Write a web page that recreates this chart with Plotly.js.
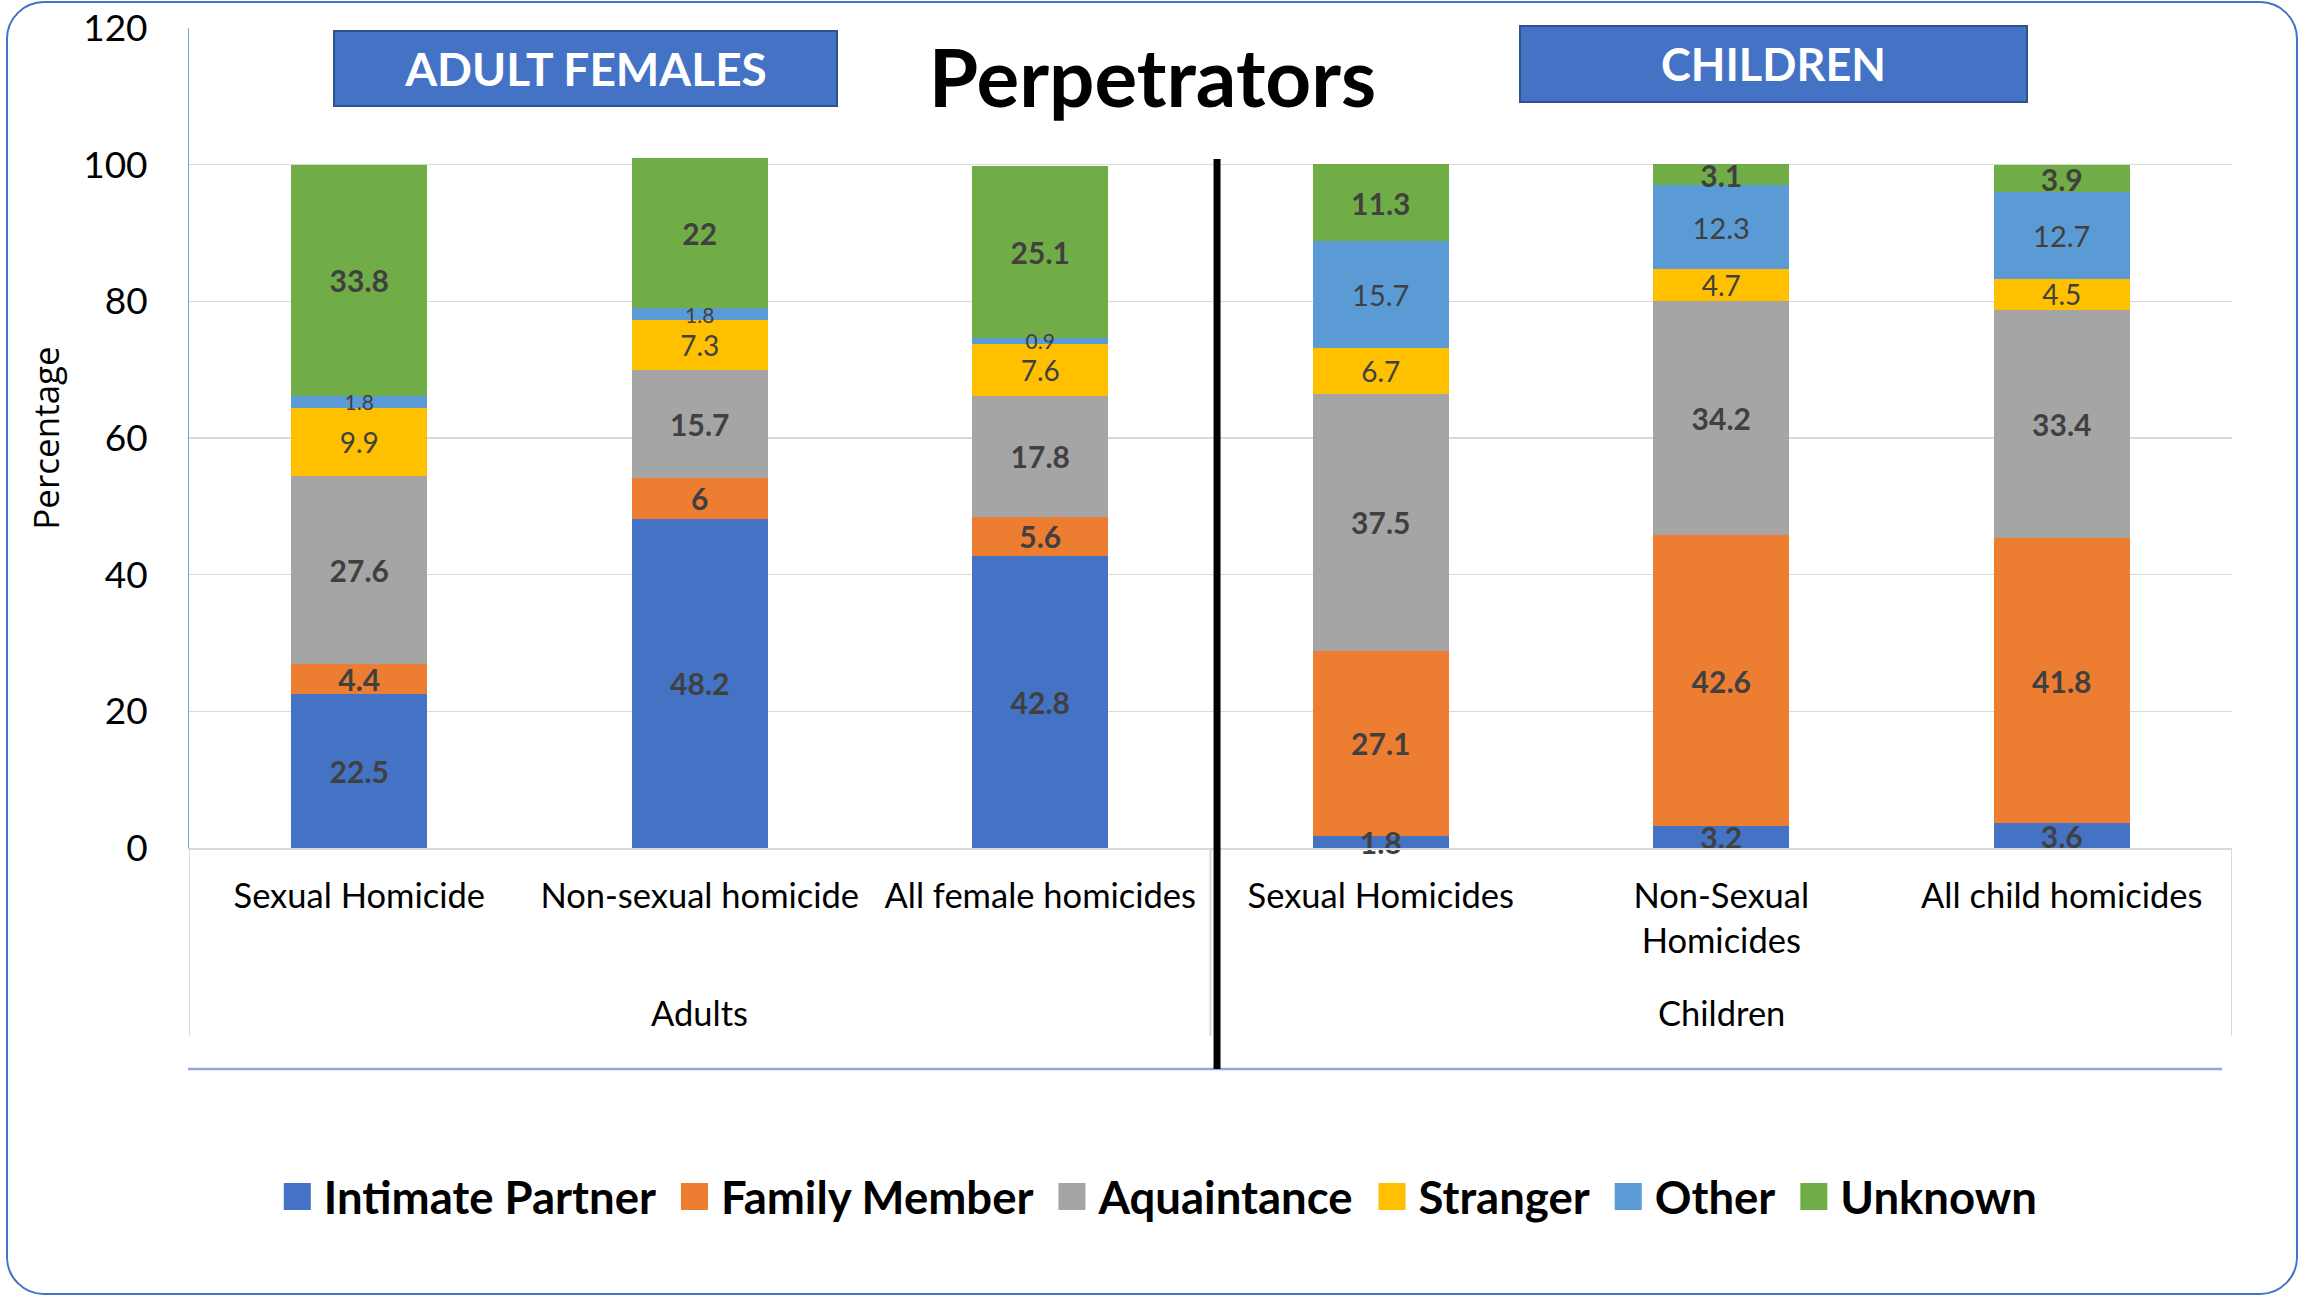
<!DOCTYPE html>
<html><head><meta charset="utf-8">
<script src="https://cdn.plot.ly/plotly-3.0.1.min.js"></script>
<style>
html,body{margin:0;padding:0;background:#fff;overflow:hidden}
#wrap{position:relative;width:2305px;height:1297px}
#chart{width:2305px;height:1297px}
#frame{position:absolute;left:6px;top:1px;width:2292px;height:1294px;border:2px solid #4472C4;border-radius:38px;pointer-events:none;box-sizing:border-box}
</style></head><body>
<div id="wrap"><div id="chart"></div><div id="frame"></div></div>
<script>
// ---- data ----
const groupNames = ['Adults', 'Children'];
const categories = ['Sexual Homicide','Non-sexual homicide','All female homicides','Sexual Homicides','Non-Sexual<br>Homicides','All child homicides'];
const seriesNames = ['Intimate Partner','Family Member','Aquaintance','Stranger','Other','Unknown'];
const intimatePartner = [22.5, 48.2, 42.8, 1.8, 3.2, 3.6];
const familyMember    = [4.4, 6, 5.6, 27.1, 42.6, 41.8];
const aquaintance     = [27.6, 15.7, 17.8, 37.5, 34.2, 33.4];
const stranger        = [9.9, 7.3, 7.6, 6.7, 4.7, 4.5];
const other           = [1.8, 1.8, 0.9, 15.7, 12.3, 12.7];
const unknown         = [33.8, 22, 25.1, 11.3, 3.1, 3.9];
const yTickVals = [0, 20, 40, 60, 80, 100, 120];
const chartTitle = 'Perpetrators';
const boxLabels = ['ADULT FEMALES', 'CHILDREN'];
const yTitle = 'Percentage';

// ---- styling ----
const FONT = 'Lato, "Open Sans", sans-serif';
const colors = ['#4472C4','#ED7D31','#A5A5A5','#FFC000','#5B9BD5','#70AD47'];
const weights = [700,700,700,400,400,700];
const sizes = [30,30,30,28,[21,21,21,29,29,29],30];
const seriesValues = [intimatePartner, familyMember, aquaintance, stranger, other, unknown];

const traces = seriesValues.map((vals, i) => ({
  type: 'bar',
  name: seriesNames[i],
  x: categories,
  y: vals,
  marker: {color: colors[i]},
  text: vals.map(v => String(v)),
  textposition: 'inside',
  insidetextanchor: 'middle',
  textangle: 0,
  constraintext: 'none',
  textfont: {family: FONT, size: sizes[i], color: '#404040', weight: weights[i]},
  hoverinfo: 'skip',
  cliponaxis: false
}));

const GRAY = '#D9D9D9';
const belowAxis = -0.2293;   // bottom of the category label box (paper units)
const layout = {
  width: 2305, height: 1297,
  margin: {l: 189, r: 73, t: 28, b: 449},
  paper_bgcolor: '#fff', plot_bgcolor: '#fff',
  barmode: 'stack', bargap: 0.6,
  font: {family: FONT, color: '#000'},
  title: {text: chartTitle, font: {family: FONT, size: 80, weight: 700, color: '#000'},
          x: 0.5, xanchor: 'center', xref: 'container', y: 1 - 79/1297, yanchor: 'middle', yref: 'container'},
  xaxis: {type: 'category', showline: true, linecolor: GRAY, linewidth: 2,
          tickfont: {family: FONT, size: 34.5, color: '#000'}, ticks: '', showgrid: false,
          ticklabelstandoff: 17, automargin: false, range: [-0.5, 5.5]},
  yaxis: {range: [0, 120], tickvals: yTickVals, gridcolor: GRAY, gridwidth: 1.5,
          showline: true, linecolor: '#7F9FDA', linewidth: 1, zeroline: false, ticks: '',
          tickfont: {family: FONT, size: 37, color: '#000'}, ticklabelstandoff: 33, automargin: false,
          title: {text: yTitle, font: {family: '"Open Sans", sans-serif', size: 35, color: '#000'}, standoff: 12}},
  showlegend: true,
  legend: {orientation: 'h', x: 0.472, xanchor: 'center', y: -0.4256, yanchor: 'middle',
           font: {family: FONT, size: 45.5, weight: 700, color: '#000'}, traceorder: 'normal',
           itemwidth: 50, itemclick: false, itemdoubleclick: false},
  annotations: [
    {xref: 'paper', yref: 'paper', x: 0.194, y: 0.9506, xanchor: 'center', yanchor: 'middle',
     text: boxLabels[0], showarrow: false, font: {family: FONT, size: 46, weight: 700, color: '#fff'},
     bgcolor: '#4472C4', bordercolor: '#2F528F', borderwidth: 2, borderpad: 0, width: 501, height: 73},
    {xref: 'paper', yref: 'paper', x: 0.7756, y: 0.956, xanchor: 'center', yanchor: 'middle',
     text: boxLabels[1], showarrow: false, font: {family: FONT, size: 45, weight: 700, color: '#fff'},
     bgcolor: '#4472C4', bordercolor: '#2F528F', borderwidth: 2, borderpad: 0, width: 505, height: 74},
    {xref: 'x', yref: 'paper', x: 1, y: -0.2012, xanchor: 'center', yanchor: 'middle',
     text: groupNames[0], showarrow: false, font: {family: FONT, size: 34.5, color: '#000'}},
    {xref: 'x', yref: 'paper', x: 4, y: -0.2012, xanchor: 'center', yanchor: 'middle',
     text: groupNames[1], showarrow: false, font: {family: FONT, size: 34.5, color: '#000'}}
  ],
  shapes: [
    {type: 'line', xref: 'x', yref: 'paper', x0: -0.5, x1: -0.5, y0: 0, y1: belowAxis, line: {color: GRAY, width: 2}},
    {type: 'line', xref: 'x', yref: 'paper', x0: 2.5, x1: 2.5, y0: 0, y1: belowAxis, line: {color: GRAY, width: 2}},
    {type: 'line', xref: 'x', yref: 'paper', x0: 5.5, x1: 5.5, y0: 0, y1: belowAxis, line: {color: GRAY, width: 2}},
    {type: 'line', xref: 'paper', yref: 'paper', x0: -0.0005, x1: 0.9951, y0: -0.2695, y1: -0.2695,
     line: {color: '#8EA9DB', width: 2.5}},
    {type: 'line', xref: 'paper', yref: 'paper', x0: 0.5032, x1: 0.5032, y0: -0.2695, y1: 0.8402,
     line: {color: '#000', width: 7}}
  ]
};

Plotly.newPlot('chart', traces, layout, {displayModeBar: false, staticPlot: true}).then(gd => {
  // larger legend swatches, placed just before their text
  gd.querySelectorAll('.legend .legendpoints path').forEach(p => {
    p.setAttribute('transform', 'translate(33.5,0) scale(2.25)');
  });
  // keep every bar label on top of all bar segments
  const bl = gd.querySelector('.barlayer');
  if (bl) {
    const top = document.createElementNS('http://www.w3.org/2000/svg', 'g');
    bl.appendChild(top);
    bl.querySelectorAll('text.bartext').forEach(t => top.appendChild(t));
  }
});
</script>
</body></html>
